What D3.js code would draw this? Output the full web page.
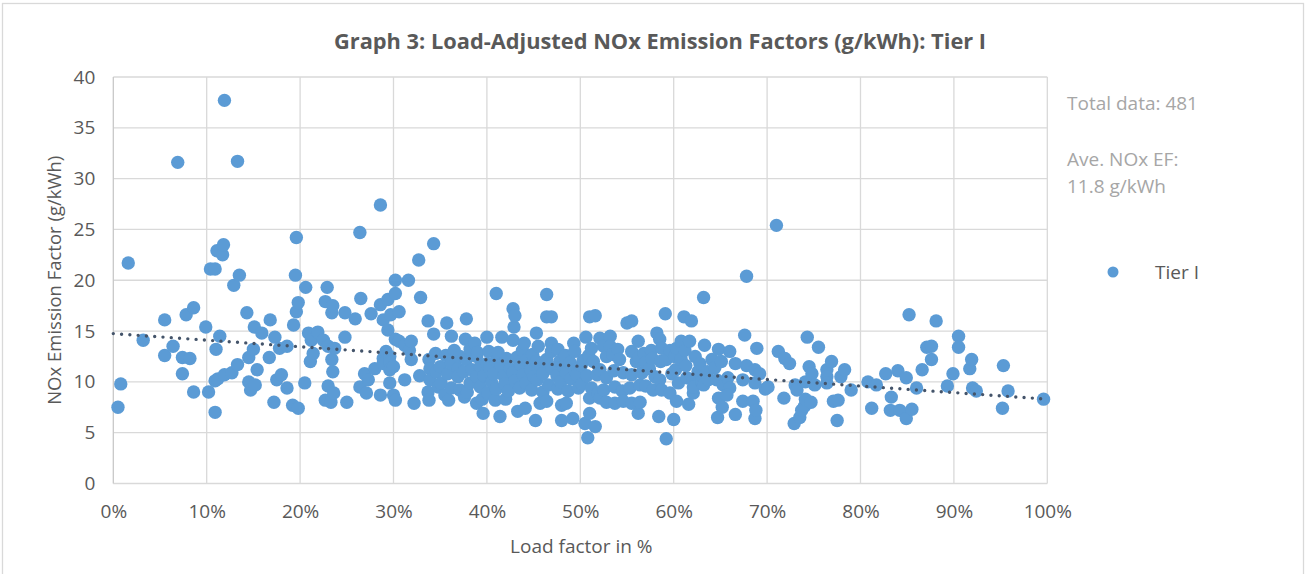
<!DOCTYPE html>
<html>
<head>
<meta charset="utf-8">
<script src="https://cdn.jsdelivr.net/npm/d3@7/dist/d3.min.js"></script>
<style>
  body { margin: 0; background: #fff; }
  text { font-family: "Open Sans", "Noto Sans", sans-serif; }
</style>
</head>
<body>
<svg id="chart" width="1306" height="574"></svg>
<script>
// ---- data ----
const chartTitle = "Graph 3: Load-Adjusted NOx Emission Factors (g/kWh): Tier I";
const xTitle = "Load factor in %";
const yTitle = "NOx Emission Factor (g/kWh)";
const seriesName = "Tier I";
const notes = ["Total data: 481", "Ave. NOx EF:", "11.8 g/kWh"];

const xTickValues = [0, 10, 20, 30, 40, 50, 60, 70, 80, 90, 100];
const yTickValues = [0, 5, 10, 15, 20, 25, 30, 35, 40];

// linear trend (Excel trendline), endpoints at 0% and 100% load
const trendLine = [[0, 14.75], [100, 8.3]];

// [load factor %, NOx EF g/kWh]
const tierI = [
  [0.5,7.5],[0.8,9.8],[1.6,21.7],[3.2,14.1],[5.5,16.1],[5.5,12.6],[6.4,13.5],[6.9,31.6],[7.4,12.4],[7.4,10.8],
  [7.8,16.6],[8.2,12.3],[8.6,9.0],[8.6,17.3],[9.9,15.4],
  [10.2,9.0],[10.4,21.1],[10.9,21.1],[10.9,10.1],[10.9,7.0],[11.0,13.2],[11.1,22.9],[11.2,10.3],[11.4,14.5],[11.7,22.5],
  [11.8,23.5],[11.9,37.7],[11.9,10.7],[12.7,10.9],[12.9,19.5],[13.3,31.7],[13.3,11.7],[13.5,20.5],[14.3,16.8],[14.5,12.4],
  [14.5,10.0],[14.7,9.2],[15.0,13.2],[15.1,15.4],[15.2,9.7],[15.4,11.2],[15.9,14.8],[16.8,16.1],[16.7,12.4],[17.2,8.0],
  [17.3,14.4],[17.5,10.2],[17.8,13.3],[18.0,10.7],[18.6,13.5],[18.6,9.4],[19.2,7.7],[19.3,15.6],[19.5,20.5],[19.6,24.2],
  [19.6,16.9],[19.8,17.8],[19.8,7.4],
  [20.5,9.9],[20.6,19.3],[20.9,14.8],[21.1,12.0],[21.2,14.1],[21.4,12.8],[21.9,14.9],[22.5,14.1],[22.7,17.9],[22.7,8.2],
  [22.9,19.3],[23.0,13.5],[23.0,9.6],[23.3,8.0],[23.4,16.8],[23.4,12.2],[23.5,17.5],[23.5,11.0],[23.6,8.9],[23.7,13.3],
  [24.8,16.8],[24.8,14.4],[25.0,8.0],[25.9,16.2],[26.4,24.7],[26.4,9.5],[26.5,18.2],[26.9,10.8],[27.1,8.9],[27.3,10.2],
  [27.6,16.7],[28.0,11.3],[28.6,27.4],[28.6,17.6],[28.6,8.7],[28.9,16.1],[28.9,12.3],[28.9,11.8],[29.2,13.0],[29.4,18.1],
  [29.4,15.1],[29.6,12.5],[29.6,11.9],[29.6,11.2],[29.6,9.9],[29.7,16.6],
  [30.0,11.5],[30.0,8.7],[30.2,20.0],[30.2,18.7],[30.2,14.2],[30.2,8.2],[30.6,16.9],[30.6,14.0],[31.2,13.6],[31.2,10.2],
  [31.6,20.0],[31.7,13.1],[31.9,14.0],[31.9,12.2],[32.2,7.9],[32.7,22.0],[32.8,10.6],[32.9,18.3],[33.7,16.0],[33.8,12.2],
  [33.7,9.0],[33.8,8.2],[33.9,11.3],[33.9,10.2],[34.3,23.6],[34.3,14.7],[34.5,12.8],[34.6,11.0],[34.8,9.5],[35.0,11.5],
  [35.1,9.9],[35.5,8.7],[35.6,12.6],[35.7,15.8],[35.8,10.8],[35.9,8.2],[36.2,14.5],[36.2,11.8],[36.2,9.4],[36.5,13.1],
  [36.9,11.3],[36.9,10.5],[37.1,12.5],[37.1,9.2],[37.5,11.0],[37.6,8.5],[37.7,14.2],[37.8,16.2],[37.8,12.2],[37.9,9.0],
  [38.2,13.2],[38.2,9.9],[38.4,11.2],[38.7,13.8],[38.9,12.5],[38.9,10.5],[38.9,7.9],[39.0,12.9],[39.3,11.5],[39.3,9.5],
  [39.5,8.3],[39.6,6.9],[39.7,10.6],[40.0,14.4],[40.0,11.8],
  [40.1,8.9],[40.2,13.0],[40.3,11.4],[40.5,10.0],[40.7,10.8],[40.9,8.2],[41.0,18.7],[41.0,12.1],[41.0,9.3],[41.2,12.9],
  [41.4,6.6],[41.5,11.6],[41.6,14.4],[41.8,10.6],[41.9,9.8],[42.0,8.3],[42.1,12.3],[42.3,9.1],[42.5,11.3],[42.8,17.2],
  [42.8,14.1],[42.8,10.9],[42.9,15.4],[43.0,16.5],[43.0,10.1],[43.2,12.4],[43.3,7.1],[43.5,9.4],[43.6,11.7],[43.8,13.1],
  [43.9,10.7],[44.0,13.8],[44.1,7.4],[44.2,9.9],[44.3,12.2],[44.7,11.2],[44.8,9.2],[44.9,12.7],[45.0,10.5],[45.2,6.2],
  [45.3,14.8],[45.3,12.0],[45.4,10.2],[45.5,13.5],[45.7,7.9],[45.8,11.5],[46.0,10.8],[46.0,9.0],[46.4,18.6],[46.4,16.4],
  [46.4,12.2],[46.4,8.1],[46.6,9.7],[46.9,16.4],[46.9,13.8],[46.9,13.0],[47.0,11.3],[47.5,10.6],[47.6,13.2],[47.6,9.3],
  [47.8,12.0],[47.9,10.0],[48.0,7.7],[48.0,6.2],[48.2,11.5],[48.4,12.6],[48.5,10.9],[48.5,7.9],[48.7,9.1],[48.9,11.9],
  [49.0,10.3],[49.2,6.4],[49.3,13.8],[49.4,13.0],[49.4,11.2],[49.6,10.7],[49.8,9.4],
  [50.1,11.6],[50.2,9.8],[50.3,12.1],[50.5,5.9],[50.6,14.4],[50.7,10.6],[50.8,4.5],[50.9,12.6],[51.0,16.4],[51.0,8.4],
  [51.0,6.9],[51.2,13.3],[51.2,9.4],[51.4,12.0],[51.6,16.5],[51.6,5.6],[51.8,10.7],[51.9,8.9],[52.1,14.3],[52.1,11.2],
  [52.1,8.4],[52.5,13.5],[52.5,9.2],[52.8,12.5],[52.8,10.4],[52.8,8.0],[53.2,14.5],[53.2,13.5],[53.5,12.7],[53.6,11.1],
  [53.7,9.5],[53.7,7.9],[54.0,13.2],[54.2,12.2],[54.5,9.1],[54.6,10.9],[54.6,8.1],[55.0,15.8],[55.3,9.4],[55.5,16.0],
  [55.5,13.0],[55.5,10.7],[55.5,7.9],[56.0,12.0],[56.2,14.0],[56.2,6.9],[56.3,12.4],[56.4,9.7],[56.4,8.0],[56.6,10.9],
  [56.8,12.8],[57.0,11.9],[57.0,9.6],[57.4,11.3],[57.6,13.1],[57.7,12.3],[57.8,9.2],[58.0,10.5],[58.2,14.8],[58.4,6.6],
  [58.5,14.2],[58.5,10.2],[58.6,12.0],[58.7,13.3],[58.7,9.2],[59.1,16.7],[59.2,12.2],[59.2,4.4],[59.6,13.1],[59.6,8.9],
  [59.8,10.8],
  [60.0,6.3],[60.1,12.5],[60.2,11.2],[60.3,13.3],[60.3,8.1],[60.5,9.9],[60.8,14.0],[60.8,12.2],[61.1,16.4],[61.2,13.1],
  [61.3,11.6],[61.4,10.4],[61.6,7.8],[61.7,14.0],[61.9,16.0],[62.1,10.2],[62.1,8.9],[62.1,9.5],[62.3,12.5],[62.6,11.0],
  [62.8,11.8],[63.0,10.0],[63.2,18.3],[63.2,9.7],[63.3,13.6],[63.6,11.0],[63.7,10.2],[64.1,12.2],[64.4,11.4],[64.6,10.2],
  [64.7,6.5],[64.8,13.2],[64.8,8.4],[65.1,12.0],[65.2,7.5],[65.3,9.7],[65.8,10.4],[66.0,13.0],[66.0,9.4],[65.7,8.7],
  [66.6,11.8],[66.6,6.8],[67.4,10.2],[67.4,8.1],[67.6,14.6],[67.8,20.4],[67.8,11.6],[68.5,8.1],[68.7,11.2],[68.7,9.9],
  [68.7,6.4],[68.8,7.2],[68.9,13.3],[69.2,10.8],[69.8,9.3],[70.1,9.5],
  [71.0,25.4],[71.2,13.0],[71.8,8.4],[71.9,12.3],[72.4,11.8],[72.9,5.9],[73.0,9.7],[73.2,9.2],[73.5,6.5],[73.7,7.2],
  [74.0,7.6],[74.1,10.0],[74.1,8.3],[74.3,14.4],[74.5,11.5],[74.7,8.0],[74.8,10.8],[75.1,9.7],[75.5,13.4],[76.4,11.2],
  [76.4,10.5],[76.4,9.9],[76.9,12.0],[77.1,8.1],[77.5,6.2],[77.6,8.2],[77.9,10.5],[78.3,11.2],[79.0,9.2],
  [80.8,10.0],[81.2,7.4],[81.7,9.7],[82.7,10.8],[83.2,7.2],[83.3,8.5],[84.0,11.1],[84.2,7.2],[84.9,10.4],[84.9,6.4],
  [85.2,16.6],[85.5,7.3],[86.0,9.4],[86.6,11.2],[87.1,13.4],[87.6,13.5],[87.6,12.2],[88.1,16.0],[89.3,9.6],[89.9,10.8],
  [90.5,14.5],[90.5,13.4],[91.7,11.3],[91.9,12.2],[92.0,9.4],[92.4,9.1],[95.2,7.4],[95.3,11.6],[95.8,9.1],[99.6,8.3]
];

// ---- chart ----
var svg = d3.select("#chart");
var W = 1306, H = 574;
var plot = {left: 113.3, right: 1047.3, top: 77, bottom: 483.5};

var x = d3.scaleLinear().domain([0, 100]).range([plot.left, plot.right]);
var y = d3.scaleLinear().domain([0, 40]).range([plot.bottom, plot.top]);

var grey = "#595959", gridColor = "#d9d9d9", dotColor = "#5b9bd5";

svg.append("rect")
  .attr("width", W).attr("height", H).attr("fill", "#fff");
svg.append("rect")
  .attr("x", 2.5).attr("y", 3.5).attr("width", W - 5).attr("height", H + 10)
  .attr("fill", "none").attr("stroke", gridColor).attr("stroke-width", 1.3);

// gridlines
svg.append("g")
  .selectAll("line")
  .data(yTickValues)
  .join("line")
  .attr("x1", plot.left).attr("x2", plot.right)
  .attr("y1", d => y(d)).attr("y2", d => y(d))
  .attr("stroke", gridColor).attr("stroke-width", 1.3);

svg.append("g")
  .selectAll("line")
  .data(xTickValues)
  .join("line")
  .attr("x1", d => x(d)).attr("x2", d => x(d))
  .attr("y1", plot.top).attr("y2", plot.bottom)
  .attr("stroke", d => d === 0 ? "#c8c8c8" : gridColor).attr("stroke-width", 1.3);

// axes (labels only, Excel style)
var yAxis = svg.append("g")
  .attr("transform", `translate(${plot.left},0)`)
  .call(d3.axisLeft(y).tickValues(yTickValues).tickSize(0).tickPadding(18));
var xAxis = svg.append("g")
  .attr("transform", `translate(0,${plot.bottom})`)
  .call(d3.axisBottom(x).tickValues(xTickValues).tickSize(0).tickPadding(21)
        .tickFormat(d => d + "%"));
[yAxis, xAxis].forEach(a => {
  a.select(".domain").remove();
  a.selectAll("text")
    .attr("fill", grey)
    .style("font-size", "19px")
    .style("font-family", "'Open Sans', sans-serif");
});

// points
svg.append("g")
  .selectAll("circle")
  .data(tierI)
  .join("circle")
  .attr("cx", d => x(d[0]))
  .attr("cy", d => y(d[1]))
  .attr("r", 6.7)
  .attr("fill", dotColor);

// trendline (dotted, drawn over the points)
svg.append("path")
  .datum(trendLine)
  .attr("d", d3.line().x(d => x(d[0])).y(d => y(d[1])))
  .attr("fill", "none")
  .attr("stroke", "#44546a")
  .attr("stroke-width", 3.4)
  .attr("stroke-linecap", "round")
  .attr("stroke-dasharray", "0 8.3");

// titles
svg.append("text")
  .attr("x", 660).attr("y", 49)
  .attr("text-anchor", "middle")
  .attr("fill", grey)
  .style("font-size", "21.8px").style("font-weight", "bold")
  .text(chartTitle);

svg.append("text")
  .attr("x", (plot.left + plot.right) / 2 + 1).attr("y", 553)
  .attr("text-anchor", "middle")
  .attr("fill", grey)
  .style("font-size", "19px")
  .text(xTitle);

svg.append("text")
  .attr("transform", `translate(61,${(plot.top + plot.bottom) / 2}) rotate(-90)`)
  .attr("text-anchor", "middle")
  .attr("fill", grey)
  .style("font-size", "18.5px")
  .text(yTitle);

// notes on the right
svg.append("g")
  .selectAll("text")
  .data(notes)
  .join("text")
  .attr("x", 1067)
  .attr("y", (d, i) => [110, 166, 193][i])
  .attr("fill", "#a6a6a6")
  .style("font-size", "19px")
  .text(d => d);

// legend
var legend = svg.append("g").attr("transform", "translate(1113,272)");
legend.append("circle").attr("r", 5.5).attr("fill", dotColor);
legend.append("text")
  .attr("x", 42).attr("y", 7)
  .attr("fill", grey)
  .style("font-size", "19px")
  .text(seriesName);
</script>
</body>
</html>
